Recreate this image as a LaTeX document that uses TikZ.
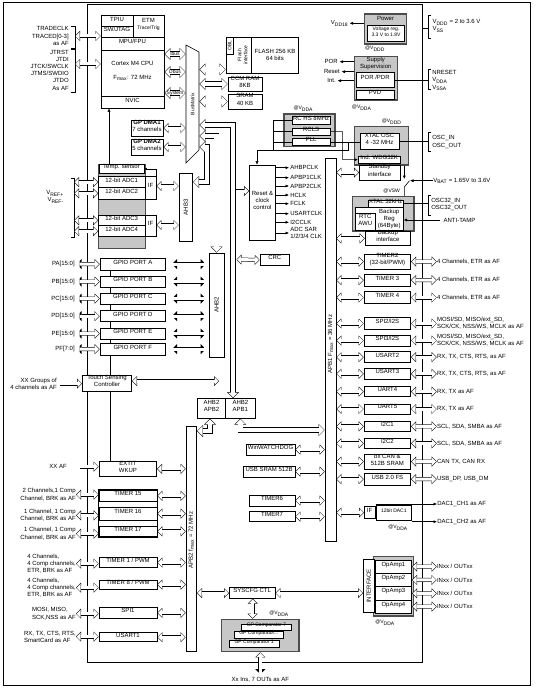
\documentclass[tikz,border=0pt]{standalone}
\usepackage{fontspec}
\setmainfont{Liberation Sans}
\usetikzlibrary{arrows.meta,fit,backgrounds}

\newcommand{\vsub}[1]{V\textsubscript{#1}}

\tikzset{every node/.style={font=\fontsize{6}{7.2}\selectfont},
         box/.style={draw,fill=white,inner sep=0pt,align=center,line width=.6pt},
         graybox/.style={draw=black!70,fill=black!22,line width=1.2pt,inner sep=0pt},
         txt/.style={inner sep=0pt,align=center},
         pinl/.style={inner sep=0pt,align=right,anchor=east},
         pinr/.style={inner sep=0pt,align=left,anchor=west},
         mini/.style={font=\fontsize{5}{6}\selectfont},
         arr/.style={line width=.5pt,-{Latex[length=3.5pt,width=3pt]}},
         dbl/.style={line width=4pt,
           {Triangle[length=5pt,width=10pt,line width=0pt]}-{Triangle[length=5pt,width=10pt,line width=0pt]},
           postaction={draw=white,line width=3pt,shorten <=.7pt,shorten >=.7pt,
           {Triangle[length=3.8pt,width=7.6pt,line width=0pt]}-{Triangle[length=3.8pt,width=7.6pt,line width=0pt]}}},
         bus/.style={line width=5.5pt,
           {Triangle[length=6pt,width=12pt,line width=0pt]}-{Triangle[length=6pt,width=12pt,line width=0pt]},
           postaction={draw=white,line width=4.5pt,shorten <=.7pt,shorten >=.7pt,
           {Triangle[length=4.8pt,width=9.6pt,line width=0pt]}-{Triangle[length=4.8pt,width=9.6pt,line width=0pt]}}},
         feed/.style={line width=4pt,
           -{Triangle[length=5pt,width=10pt,line width=0pt]},
           postaction={draw=white,line width=3pt,shorten >=.7pt,
           -{Triangle[length=3.8pt,width=7.6pt,line width=0pt]}}}}

\begin{document}
\begin{tikzpicture}[x=1pt,y=-1pt,line width=.6pt]
\useasboundingbox (0,0) rectangle (537,690);
\draw[line width=.8pt] (3,2) rectangle (530,685);
\draw (87,4) rectangle (422,662);

% core and debug
\node[box,fit={(101,15.7) (164,108)}] (cpubox) {};
\node[box,fit={(101,15.7) (133,26.5)}] (tpiu) {TPIU};
\node[box,fit={(101,26.5) (133,37.3)}] (swj) {SW/JTAG};
\node[box,fit={(133,15.7) (164,37.3)}] (etm) {ETM\\{\fontsize{5}{6}\selectfont Trace/Trig}};
\node[box,fit={(101,37.3) (164,50)}] (mpu) {MPU/FPU};
\node[box,fit={(101,50) (164,96.7)}] (cpu) {Cortex M4 CPU\\[7pt]F\textsubscript{max}: 72 MHz};
\node[box,fit={(101,96.7) (164,108)}] (nvic) {NVIC};
\node[pinl] (trace) at (69,36) {TRADECLK\\TRACED[0-3]\\as AF};
\node[pinl] (jtag) at (69,70) {JTRST\\JTDI\\JTCK/SWCLK\\JTMS/SWDIO\\JTDO\\As AF};
\draw (71,26) -- (75,26) -- (75,48) -- (71,48);
\draw (71,49) -- (75,49) -- (75,92) -- (71,92);
\coordinate (trb) at (75,36);
\coordinate (jtb) at (75,64);
\draw[dbl] (trb) -- (trb -| cpubox.west);
\draw[dbl] (jtb) -- (jtb -| cpubox.west);

% bus matrix
\draw[fill=white] (186,45) -- (199,52) -- (199,150) -- (186,163) -- cycle;
\node[inner sep=0pt,fit={(186,45) (199,163)}] (busm) {};
\node[txt,mini,rotate=90] (busmt) at (192.5,104) {BusMatrix};
\draw[bus] (cpubox.east |- 0,54) -- (busm.west |- 0,54);
\draw[bus] (cpubox.east |- 0,72) -- (busm.west |- 0,72);
\draw[bus] (cpubox.east |- 0,93) -- (busm.west |- 0,93);
\node[txt,mini] (ibus) at (175,54) {Ibus};
\node[txt,mini] (dbus) at (175,72) {Dbus};
\node[txt,mini] (sbus) at (175,93) {System};

% memories
\node[box,fit={(226,37) (298,73)}] (flash) {};
\node[box,fit={(226,37) (233.5,54)}] (obl) {};
\node[txt,mini,rotate=90] (oblt) at (obl) {OBL};
\node[txt,mini,rotate=90] (flif) at (242.5,55) {Flash\\interface};
\draw (251.7,37) -- (251.7,73);
\node[txt] (flmem) at (275,55) {FLASH 256 KB\\64 bits};
\node[box,fit={(228,77) (262,91)}] (ccm) {CCM RAM\\8KB};
\node[box,fit={(228,94) (262,109)}] (sram) {SRAM\\40 KB};
\draw[bus] (busm.east |- 0,69.5) -- (flash.west |- 0,69.5);
\draw[bus] (busm.east |- ccm.west) -- (ccm.west);
\draw[bus] (busm.east |- sram.west) -- (sram.west);

% dma
\node[box,align=left,fit={(131,120) (163,136)}] (dma1) {\textbf{GP DMA1}\\7 channels};
\node[box,align=left,fit={(131,139) (163,155)}] (dma2) {\textbf{GP DMA2}\\5 channels};
\draw[dbl] (dma1.east) -- (busm.west |- dma1.east);
\draw[dbl] (dma2.east) -- (busm.west |- dma2.east);

% adc
\node[graybox,line width=.8pt,fit={(98.5,164.7) (145,248.3)}] (adcs) {};
\node[box,fit={(99,164.7) (144,173.3)}] (temp) {Temp. sensor};
\node[box,fit={(98.5,176.7) (145,187.7)}] (adc1) {12-bit ADC1};
\node[box,fit={(98.5,187.7) (145,199)}] (adc2) {12-bit ADC2};
\node[box,fit={(98.5,215) (145,225.7)}] (adc3) {12-bit ADC3};
\node[box,fit={(98.5,225.7) (145,236.7)}] (adc4) {12-bit ADC4};
\node[box,fit={(145,176.7) (156,199)}] (if1) {IF};
\node[box,fit={(145,215) (156,236.7)}] (if2) {IF};
\draw[arr] (temp.north -| 109,0) -- (nvic.south -| 109,0);
\draw[line width=.5pt,-{Latex[length=2.5pt,width=2.5pt]}] (if1.north east) |- (temp.east);
\node[pinl] (vref) at (64,197) {\vsub{REF+}\\\vsub{REF-}};
\draw (71,178) -- (74,178) -- (74,237) -- (71,237);
\foreach \a in {adc1,adc2,adc3,adc4}
  \draw[dbl] (\a.west -| 74,0) -- (\a.west);
\node[box,fit={(179,173) (192.7,241.7)}] (ahb3) {};
\node[txt,rotate=90] (ahb3t) at (ahb3) {AHB3};
\draw[dbl] (if1.east |- 0,186) -- (ahb3.west |- 0,186);
\draw[dbl] (if2.east |- 0,225) -- (ahb3.west |- 0,225);

% ahb buses
\node[box,fit={(209,253) (224,357)}] (ahb2) {};
\node[txt,rotate=90] (ahb2t) at (ahb2) {AHB2};
\node[box,fit={(197.3,398.3) (225.7,418.3)}] (br2) {AHB2\\APB2};
\node[box,fit={(225.7,398.3) (255,418.3)}] (br1) {AHB2\\APB1};
\node[box,fit={(260,254.5) (289.5,265.5)}] (crc) {CRC};
\node[box,fit={(249.3,165) (275.7,240)}] (rcc) {Reset \&\\clock\\control};
\draw[bus] (busm.east |- 0,125) -| (br1.north -| 233,0);
\draw[bus] (busm.east |- 0,136) -| (ahb2.north);
\draw[bus] (busm.east |- 0,147) -- (207,147) |- (ahb3.east |- 0,182);
\draw[feed] (236,191) -- (rcc.west |- 0,191);
\draw[dbl] (236.5,259.5) -- (crc.west);
\foreach \y/\lab [count=\i] in {167.7/AHBPCLK,177.7/APBP1CLK,186/APBP2CLK,195/HCLK,203.7/FCLK,213.7/USARTCLK,222.3/I2CCLK,233/{ADC SAR\\1/2/3/4 CLK}}{
  \node[pinr] (ck\i) at (290,\y) {\lab};
  \draw[arr,shorten >=1pt] (rcc.east |- ck\i.west) -- (ck\i.west);
}

% apb bars
\node[box,fit={(325,158.3) (336,541)}] (apb1) {};
\node[txt,rotate=90] (apb1t) at (330.5,344) {APB1 F\textsubscript{max} = 36 MHz};
\node[box,fit={(186,426.7) (196.7,651)}] (apb2) {};
\node[txt,rotate=90] (apb2t) at (191.3,540) {APB2 f\textsubscript{max} = 72 MHz};
\draw[bus] (br2.south -| 210,0) |- (apb2.east |- 0,431);
\draw[bus] (br1.south) |- (apb1.west |- 0,430);

% clocks
\node[graybox,fit={(284,114) (335,146.7)}] (rcg) {};
\node[box,fit={(292.3,116.7) (330,124)}] (rchs) {RC HS 8MHz};
\node[box,fit={(292.3,128.3) (330,135)}] (rcls) {RCLS};
\node[box,fit={(292.3,138.3) (330,145.7)}] (pll) {PLL};
\node[txt,mini] (vdda1) at (303.3,108.5) {@\vsub{DDA}};
\node[graybox,fit={(354.3,126.7) (408.3,165)}] (xtg) {};
\node[box,fit={(360,133) (399,149.3)}] (xtal) {XTAL OSC\\4 -32 MHz};
\node[box,fit={(358.3,156) (400,163.3)}] (iwdg) {Ind. WDG32K};
\node[box,fit={(359.3,165) (400,180)}] (stby) {Standby\\interface};
\node[txt,mini] (vddd1) at (391.7,121.5) {@\vsub{DDD}};
\draw[arr] (rchs.west) -| (273,150.5) -| (rcc.north -| 257,0);
\draw (rcls.west) -- (rcls.west -| 273,0);
\draw (pll.west) -- (pll.west -| 273,0);
\draw (pll.east) -- (xtal.west |- pll.east);
\draw (348.3,141.5) -- (348.3,150.5) -- (273,150.5);
\draw[arr] (rcls.east) -| (342.7,159.7) -- (iwdg.west);
\draw[dbl] (apb1.east |- stby.west) -- (stby.west);
\node[pinr] (osc) at (432,142) {OSC\_IN\\OSC\_OUT};
\draw (431,132.7) -- (428,132.7) -- (428,151.7) -- (431,151.7);
\draw (xtal.east) -- (xtal.east -| 428,0);

% power
\node[graybox,fit={(364.3,14) (406.7,44)}] (pwr) {};
\node[txt] (pwrt) at (385.5,18.8) {Power};
\node[box,mini,fit={(367.7,25.5) (404.3,41.7)}] (vreg) {Voltage reg.\\3.3 V to 1.8V};
\node[pinl] (vdd18) at (348.5,23.3) {\vsub{DD18}};
\draw[arr,shorten >=1pt] (pwr.west |- vdd18.east) -- (vdd18.east);
\node[txt,mini] (vddd2) at (375,49) {@\vsub{DDD}};
\node[pinr] (vddd) at (432.3,26) {\vsub{DDD} = 2 to 3.6 V\\\vsub{SS}};
\draw (431,15) -- (428,15) -- (428,38) -- (431,38);
\draw (422,28.3) -- (428,28.3);
\node[graybox,fit={(354.3,56.7) (397.3,100)}] (sup) {};
\node[txt] (supt) at (375.8,63.8) {Supply\\Supervision};
\node[box,fit={(356,72.3) (394.3,87.7)}] (por) {POR /PDR};
\node[box,fit={(356,90) (394.3,99)}] (pvd) {PVD};
\node[pinl] (porl) at (338,61.7) {POR};
\node[pinl] (rstl) at (340,71.7) {Reset};
\node[pinl] (intl) at (336,80.7) {Int.};
\foreach \n in {porl,rstl,intl}
  \draw[arr,shorten >=1.5pt] (sup.west |- \n.east) -- (\n.east);
\node[txt,mini] (vdda2) at (361.7,107.7) {@\vsub{DDA}};
\node[pinr] (nrst) at (432,80.5) {NRESET\\\vsub{DDA}\\\vsub{SSA}};
\draw (431,69.3) -- (428,69.3) -- (428,89.3) -- (431,89.3);
\draw (por.east) -- (por.east -| 428,0);

% backup domain
\node[pinr] (vbat) at (433,180.7) {\vsub{BAT} = 1.65V to 3.6V};
\draw[arr] (vbat.west) -- (410,180.7);
\draw[arr] (xtg.south -| 404.3,0) -- (404.3,179);
\draw (404.3,196.7) -- (404.3,187) -- (409.5,180.7);
\node[txt,mini] (vsw) at (391.7,191.5) {@VSW};
\node[graybox,fit={(352.7,196.7) (414,231)}] (bkg) {};
\node[box,fit={(368.3,200) (403.3,207.3)}] (x32) {XTAL 32kHz};
\node[box,fit={(355.7,207.3) (403.3,230)}] (breg) {};
\node[box,fit={(355.7,213.3) (375,230)}] (rtc) {RTC\\AWU};
\node[txt] (bregt) at (389.2,219) {Backup\\Reg\\(64Byte)};
\node[box,fit={(365,231.7) (410.7,245)}] (bkif) {Backup\\interface};
\draw[dbl] (apb1.east |- bkif.west) -- (bkif.west);
\node[pinr] (o32) at (431,204.5) {OSC32\_IN\\OSC32\_OUT};
\draw (431,195) -- (428.3,195) -- (428.3,215) -- (431,215);
\draw (x32.east) -- (x32.east -| 428.3,0);
\node[pinr] (tamp) at (443.3,220) {ANTI-TAMP};
\draw[arr,shorten <=3pt] (tamp.west) -- (tamp.west -| breg.east);

% apb1 peripherals
\foreach \nm/\ya/\yb/\bx/\pn in {
  tim2/254.3/269/{TIMER2\\(32-bit/PWM)}/{4 Channels, ETR as AF},
  tim3/274.3/286/{TIMER 3}/{4 Channels, ETR as AF},
  tim4/291.7/303.3/{TIMER 4}/{4 Channels, ETR as AF},
  spi2/317.7/329.3/{SPI2/I2S}/{MOSI/SD, MISO/ext\_SD,\\SCK/CK, NSS/WS, MCLK as AF},
  spi3/335/346/{SPI3/I2S}/{MOSI/SD, MISO/ext\_SD,\\SCK/CK, NSS/WS, MCLK as AF},
  usart2/351.7/362.7/{USART2}/{RX, TX, CTS, RTS, as AF},
  usart3/368.3/379.3/{USART3}/{RX, TX, CTS, RTS, as AF},
  uart4/386.7/396.7/{UART4}/{RX, TX as AF},
  uart5/404/414/{UART5}/{RX, TX as AF},
  i2c1/421/431.7/{I2C1}/{SCL, SDA, SMBA as AF},
  i2c2/438.3/448.3/{I2C2}/{SCL, SDA, SMBA as AF},
  can/454/469.3/{bx CAN \&\\512B SRAM}/{CAN TX, CAN RX},
  usb/473.3/485/{USB 2.0 FS}/{USB\_DP, USB\_DM}}{
  \node[box,fit={(364,\ya) (410.7,\yb)}] (\nm) {\bx};
  \node[pinr] (l\nm) at (436.7,{(\ya+\yb)/2}) {\pn};
  \draw[dbl] (apb1.east |- \nm.west) -- (\nm.west);
  \draw[dbl] (\nm.east) -- (l\nm.west);
}
\node[box,fit={(246,444.3) (295,455)}] (wwdg) {WinWATCHDOG};
\node[box,fit={(243.3,466) (295,477.3)}] (usbram) {USB SRAM 512B};
\node[box,fit={(249,495) (295,506)}] (tim6) {TIMER6};
\node[box,fit={(249,511.7) (295,521.7)}] (tim7) {TIMER7};
\foreach \n in {wwdg,usbram,tim6,tim7}
  \draw[dbl] (\n.east) -- (\n.east -| apb1.west);

% dac and opamps
\node[box,fit={(364.3,506.7) (375,518.3)}] (difc) {IF};
\node[box,mini,line width=1pt,fit={(376,505) (411.7,520)}] (dac) {12bit DAC1};
\draw[dbl] (apb1.east |- difc.west) -- (difc.west);
\node[pinr] (ch1) at (437,504) {DAC1\_CH1 as AF};
\node[pinr] (ch2) at (437,521.7) {DAC1\_CH2 as AF};
\draw[arr] (dac.north west |- ch1.west) -- (ch1.west);
\draw[arr] (dac.south east |- ch2.west) -- (ch2.west);
\node[txt,mini] (vdda3) at (398,527.5) {@\vsub{DDA}};
\node[graybox,fit={(373.3,556.7) (413.3,616)}] (opg) {};
\node[box,fit={(363.3,559.3) (374.3,612.7)}] (intf) {};
\node[txt,rotate=90] (intft) at (intf) {INTERFACE};
\foreach \i/\ya in {1/560,2/573.3,3/586.7,4/600}{
  \node[box,fit={(375,\ya) (411.7,\ya+13.3)}] (op\i) {OpAmp\i};
  \node[pinr] (io\i) at (436.7,\ya+6.65) {INxx / OUTxx};
  \draw[dbl] (op\i.east) -- (io\i.west);
}
\node[txt,mini] (vdda4) at (385,622.7) {@\vsub{DDA}};

% syscfg and comparators
\node[box,fit={(229.3,587.7) (275,598.3)}] (syscfg) {SYSCFG CTL};
\draw[dbl] (apb2.east |- syscfg.west) -- (syscfg.west);
\draw[dbl] (syscfg.east) -- (syscfg.east -| intf.west);
\node[graybox,fit={(221.7,619.3) (299,651.7)}] (cmpg) {};
\node[box,mini,fit={(241,624) (291.7,630.7)}] (cmp7) {GP Comparator 7};
\node[box,mini,fit={(234.3,631.7) (283.3,638.3)}] (cmpx) {GP Comparator...};
\node[box,mini,fit={(229,640) (279.3,647.3)}] (cmp1) {GP Comparator 1};
\node[txt,mini] (vdda5) at (279,614) {@\vsub{DDA}};
\draw[dbl] (syscfg.south -| 252.7,0) -- (cmpg.north -| 252.7,0);
\node[txt] (cmpio) at (260.3,680) {Xx Ins, 7 OUTs as AF};
\draw[dbl,shorten >=3pt] (cmpg.south -| cmpio.north) -- (cmpio.north);

% gpio and touch
\foreach \p/\ya/\yb/\lab in {A/258.3/270/PA[15:0],B/276/287.3/PB[15:0],C/293.3/304/PC[15:0],D/310.7/321.7/PD[15:0],E/328.3/339/PE[15:0],F/343.3/355/PF[7:0]}{
  \node[box,fit={(100,\ya) (165.7,\yb)}] (gpio\p) {GPIO PORT \p};
  \node[pinl] (port\p) at (75,{(\ya+\yb)/2}) {\lab};
  \draw[dbl,shorten <=1.5pt] (port\p.east) -- (gpio\p.west);
  \draw[dbl,shorten <=6pt,shorten >=3pt] (gpio\p.east) -- (gpio\p.east -| ahb2.west);
}
\node[box,fit={(82.3,375) (131.7,391)}] (tsc) {Touch Sensing\\Controller};
\node[pinl] (tscl) at (57,383.5) {XX Groups of\\4 channels as AF};
\draw[feed,shorten <=3pt] (tscl.east) -- (tscl.east -| tsc.west);
\coordinate (tscend) at (219,381);
\draw[dbl] (tsc.east |- tscend) -- (tscend);

% apb2 peripherals
\node[box,fit={(99,461.7) (156.7,476)}] (exti) {EXTIT\\WKUP};
\node[pinl] (xxaf) at (67,466.7) {XX AF};
\draw[feed,shorten <=13pt] (xxaf.east) -- (xxaf.east -| exti.west);
\draw[dbl] (exti.east) -- (exti.east -| apb2.west);
\node[box,fit={(99,490) (157,501.7)}] (t15) {TIMER 15};
\node[box,fit={(99,507.3) (157,520)}] (t16) {TIMER 16};
\node[box,fit={(99,526) (157,536.7)}] (t17) {TIMER 17};
\node[draw,line width=1.2pt,inner sep=0pt,fit=(t15)(t17)] (tgrp) {};
\node[pinl] (lt15) at (76,494.7) {2 Channels,1 Comp\\Channel, BRK as AF};
\node[pinl] (lt16) at (76,515.3) {1 Channel, 1 Comp\\Channel, BRK as AF};
\node[pinl] (lt17) at (76,533.7) {1 Channel, 1 Comp\\Channel, BRK as AF};
\node[box,fit={(99,557.3) (157,567.7)}] (t1) {TIMER 1 / PWM};
\node[box,fit={(99,580) (157,589.3)}] (t8) {TIMER 8 / PWM};
\node[box,fit={(99,607.3) (157,618.3)}] (spi1) {SPI1};
\node[box,fit={(99,632.7) (157,641.7)}] (usart1) {USART1};
\node[pinl,align=left] (lt1) at (76,563.7) {4 Channels,\\4 Comp channels,\\ETR, BRK as AF};
\node[pinl,align=left] (lt8) at (76,587.7) {4 Channels,\\4 Comp channels,\\ETR, BRK as AF};
\node[pinl,align=left] (lspi1) at (76,613.7) {MOSI, MISO,\\SCK,NSS as AF};
\node[pinl,align=left] (lusart1) at (76,636.7) {RX, TX, CTS, RTS,\\SmartCard as AF};
\foreach \n in {t15,t16,t17,t1,t8,spi1,usart1}{
  \draw[dbl] (l\n.east) -- (l\n.east -| \n.west);
  \draw[dbl] (\n.east) -- (\n.east -| apb2.west);
}

\begin{scope}[on background layer]
\draw (gpioA.south -| 110,0) -- (exti.north -| 110,0);
\end{scope}
\end{tikzpicture}
\end{document}
